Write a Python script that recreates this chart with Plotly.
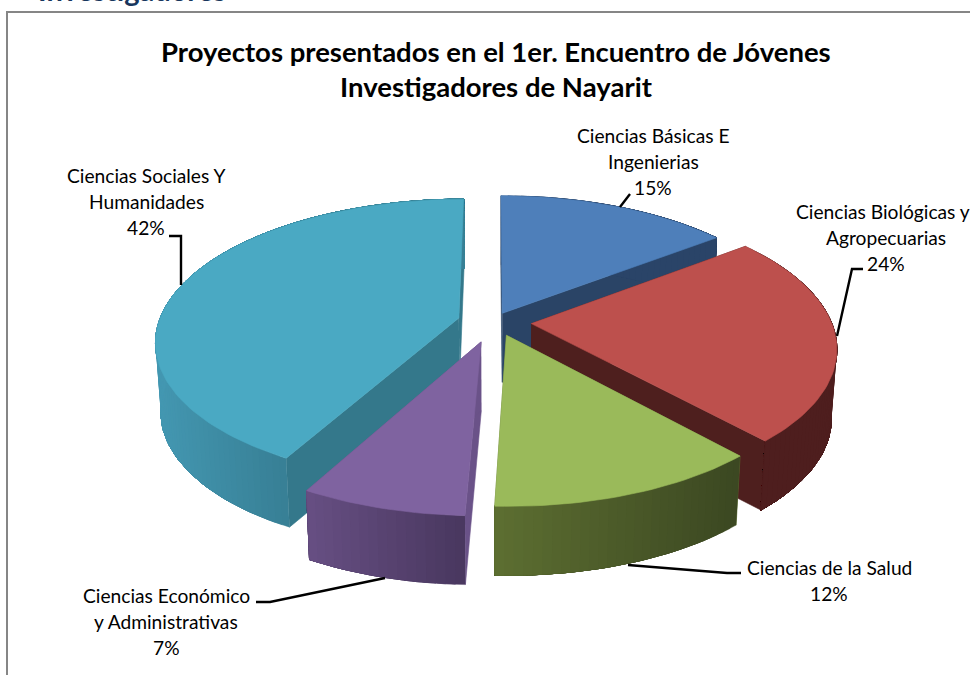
import numpy as np
import plotly.graph_objects as go

# ---- data ----
categories = ["Ciencias Básicas E Ingenierias", "Ciencias Biológicas y Agropecuarias",
              "Ciencias de la Salud", "Ciencias Económico y Administrativas",
              "Ciencias Sociales Y Humanidades"]
values = [14.6, 23.7, 12.3, 7.4, 42.0]
label_lines = [["Ciencias Básicas E", "Ingenierias"],
               ["Ciencias Biológicas y", "Agropecuarias"],
               ["Ciencias de la Salud"],
               ["Ciencias Económico", "y Administrativas"],
               ["Ciencias Sociales Y", "Humanidades"]]
title_lines = ["Proyectos presentados en el 1er. Encuentro de Jóvenes", "Investigadores de Nayarit"]

# ---- styles ----
explode = [0.07, 0.128, 0.10, 0.145, 0.118]
nudge_x = [0, 0, 3, 0, 0]
top_colors = ["#4e7fba", "#bd504d", "#9aba5a", "#7f63a0", "#4aa9c3"]
wall_left = [(42, 68, 104), (78, 30, 30), (94, 112, 50), (104, 80, 132), (68, 152, 178)]
wall_right = [(42, 68, 104), (78, 30, 30), (60, 72, 34), (74, 56, 96), (56, 128, 150)]
face_colors = ["#2a4466", "#4e1f1e", "#5d7031", "#6a5288", "#34788b"]
label_xy = [(653, 135), (886, 211), (829, 567), (166, 595), (146, 175)]
first_line_shift = [0, -3, 0, 0, 0]
leaders = [[(620, 207), (630, 194)],
           [(837, 336), (852, 269), (863, 269)],
           [(628, 565), (727, 573), (741, 573)],
           [(385, 578), (270, 602), (256, 602)],
           [(181, 285), (181, 236), (169, 236)]]

CX, CY, A, B, K, H, SHRINK = 493, 322, 300, 139, 0.16, 69, 0.984


def project(X, Y):
    f = 1 / (1 + K * Y)
    return CX + A * X * f, CY - B * Y * f


def lower(x, y):
    return CX + (x - CX) * SHRINK, y + H


def rgb(c):
    return f"rgb({int(c[0])},{int(c[1])},{int(c[2])})"


fig = go.Figure()


def poly(xs, ys, color, line=None, width=0.6):
    fig.add_trace(go.Scatter(x=list(xs), y=list(ys), mode="lines", fill="toself",
                             fillcolor=color, line=dict(color=line or color, width=width),
                             hoverinfo="skip", showlegend=False))


total = sum(values)
fractions = np.cumsum([0] + values) / total
order = [0, 4, 1, 2, 3]   # back to front
for i in order:
    a0, a1 = 2 * np.pi * fractions[i], 2 * np.pi * fractions[i + 1]
    mid = (a0 + a1) / 2
    ox, oy = explode[i] * np.sin(mid), explode[i] * np.cos(mid)
    th = np.linspace(a0, a1, max(10, int(values[i] * 2.5)))
    ax, ay = project(ox, oy)
    ax = ax + nudge_x[i]
    xs, ys = project(ox + np.sin(th), oy + np.cos(th))
    xs = xs + nudge_x[i]
    bx, by = lower(xs, ys)
    abx, aby = lower(ax, ay)
    # cut faces
    for j in (0, -1):
        poly([ax, xs[j], bx[j], abx], [ay, ys[j], by[j], aby], face_colors[i])
    # outer wall: each strip runs to the end and the next one paints over it, so no seams show
    front = xs[np.cos(th) < 0.2] if (np.cos(th) < 0.2).any() else xs
    lo, hi = front.min(), front.max()
    n = len(th)
    for s in range(n - 1):
        t = np.clip((xs[s] - lo) / max(hi - lo, 1), 0, 1)
        c = [wall_left[i][k] + (wall_right[i][k] - wall_left[i][k]) * t for k in range(3)]
        poly(np.r_[xs[s:], bx[s:][::-1]], np.r_[ys[s:], by[s:][::-1]], rgb(c), width=0.4)
    # top
    poly(np.r_[ax, xs, ax], np.r_[ay, ys, ay], top_colors[i])

# leader lines
for pts in leaders:
    fig.add_trace(go.Scatter(x=[p[0] for p in pts], y=[p[1] for p in pts], mode="lines",
                             line=dict(color="black", width=2.4), hoverinfo="skip", showlegend=False))

FONT = "Lato"
ann = []
for lines, v, (x, y), shift in zip(label_lines, values, label_xy, first_line_shift):
    for n, t in enumerate(lines + [f"{round(v)}%"]):
        ann.append(dict(x=x + (shift if n == 0 else 0), y=y + n * 26, text=t, showarrow=False,
                        xanchor="center", yanchor="middle",
                        font=dict(family=FONT, size=19.2, color="black")))
for n, t in enumerate(title_lines):
    ann.append(dict(x=496, y=51 + n * 35, text=t, showarrow=False, xanchor="center", yanchor="middle",
                    font=dict(family=FONT, size=27.5, color="black", weight="bold")))
ann.append(dict(x=36 / 970, xref="paper", y=1 + 10.5 / 675, yref="paper", text="Investigadores", showarrow=False,
                xanchor="left", yanchor="middle",
                font=dict(family=FONT, size=29, color="#17365d", weight="bold")))

fig.update_layout(
    width=970, height=675, margin=dict(l=0, r=0, t=0, b=0),
    paper_bgcolor="white", plot_bgcolor="white", showlegend=False,
    xaxis=dict(range=[0, 970], visible=False, fixedrange=True),
    yaxis=dict(range=[675, 0], visible=False, fixedrange=True),
    annotations=ann,
    shapes=[dict(type="rect", x0=7, y0=12, x1=990, y1=700, line=dict(color="#868686", width=2), layer="below")],
)
fig.write_html("out.html", config=dict(displayModeBar=False),
               post_script="document.body.style.margin='0';document.documentElement.style.overflow='hidden';")
